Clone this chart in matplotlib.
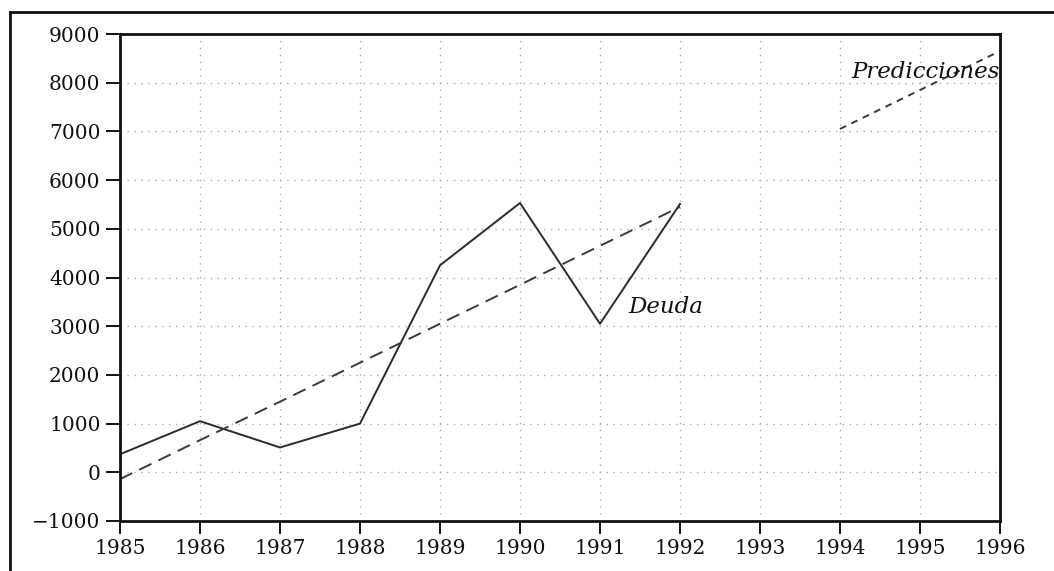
import matplotlib
matplotlib.use("Agg")
import matplotlib.pyplot as plt
from matplotlib.lines import Line2D

years = [1985, 1986, 1987, 1988, 1989, 1990, 1991, 1992]
deuda = [370, 1050, 510, 1000, 4250, 5530, 3050, 5510]
tendencia = [-140, 660, 1450, 2250, 3050, 3850, 4650, 5450]
pred_years = [1994, 1995, 1996]
predicciones = [7050, 7850, 8650]
x_ticks = list(range(1985, 1997))
y_ticks = list(range(-1000, 10000, 1000))

fig = plt.figure(figsize=(10.54, 5.71), dpi=100)
ax = fig.add_axes([120 / 1054, 1 - 521 / 571, 880 / 1054, 487 / 571])

font = "DejaVu Serif"
ax.plot(years, deuda, color="#2a2a2a", lw=1.4)
ax.plot(years, tendencia, color="#3a3a3a", lw=1.4, dashes=(7, 4))
ax.plot(pred_years, predicciones, color="#3a3a3a", lw=1.4, dashes=(3.5, 3))

ax.set_xlim(1985, 1996)
ax.set_ylim(-1000, 9000)
ax.set_xticks(x_ticks)
ax.set_yticks(y_ticks)
ax.set_xticklabels([str(v) for v in x_ticks], fontfamily=font, fontsize=14.5,
                   color="#111111")
ax.set_yticklabels([f"\u2212{abs(v)}" if v < 0 else str(v) for v in y_ticks],
                   fontfamily=font, fontsize=14.5, color="#111111")
ax.tick_params(axis="x", direction="out", length=9, width=1.3, pad=4)
ax.tick_params(axis="y", direction="out", length=10, width=1.3, pad=4)
ax.grid(True, color="#aaaaaa", linestyle=(0, (1, 4)), lw=1.0)
for s in ax.spines.values():
    s.set_linewidth(2)
    s.set_color("#111111")

ax.text(1991.35, 3400, "Deuda", fontfamily=font, fontstyle="italic",
        fontsize=16.5, va="center", ha="left", color="#111111")
ax.text(1996.0, 8220, "Predicciones", fontfamily=font, fontstyle="italic",
        fontsize=16.5, va="center", ha="right", color="#111111")

fig.add_artist(Line2D([10 / 1054, 10 / 1054], [0, 1 - 12 / 571],
                      transform=fig.transFigure, color="#111111", lw=2))
fig.add_artist(Line2D([10 / 1054, 1], [1 - 12 / 571, 1 - 12 / 571],
                      transform=fig.transFigure, color="#111111", lw=2))

fig.savefig("out.png", dpi=100)
